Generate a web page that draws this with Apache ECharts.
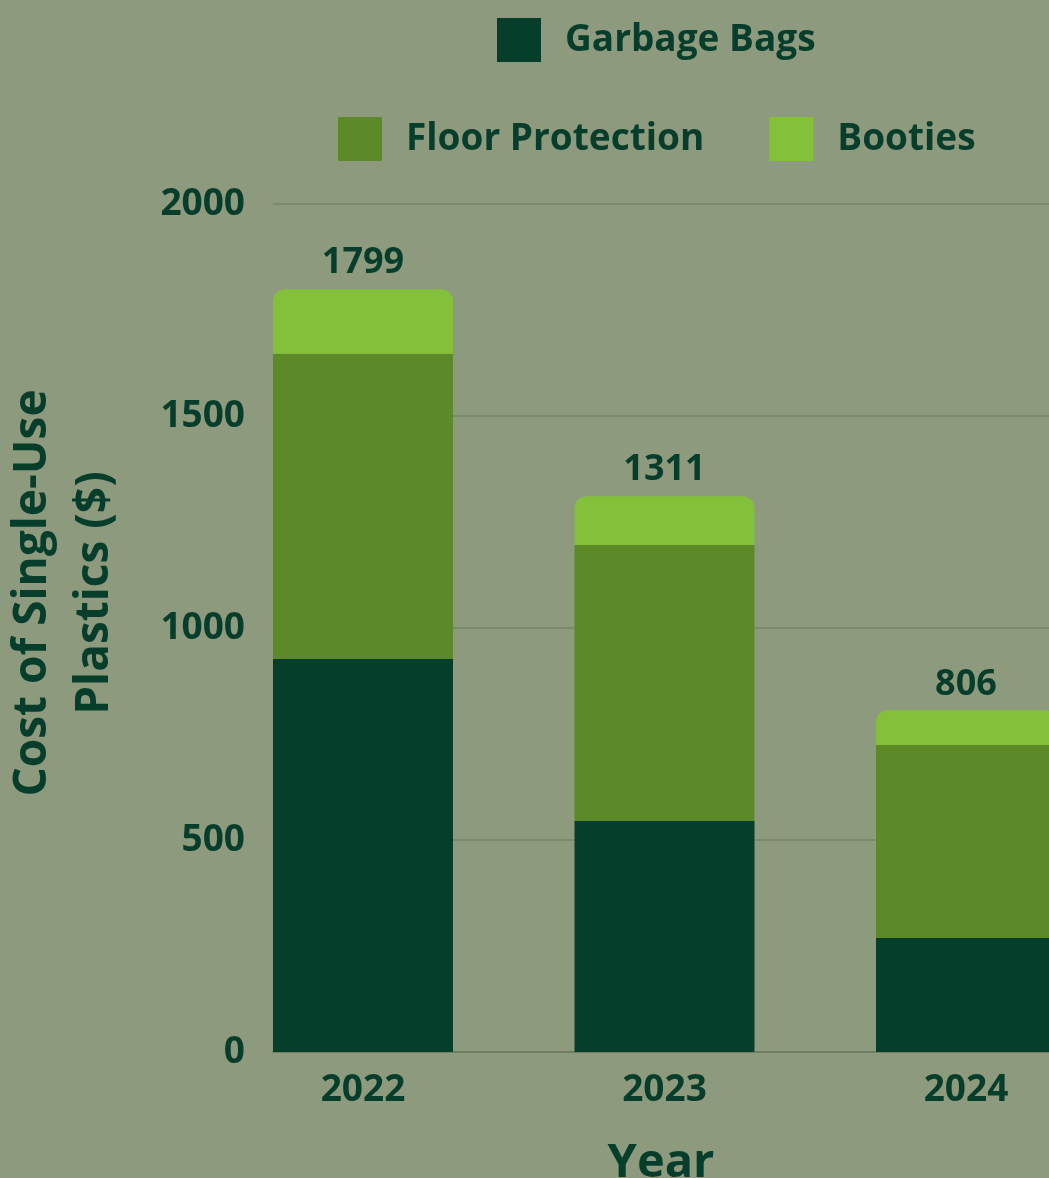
<!DOCTYPE html>
<html>
<head>
<meta charset="utf-8">
<script src="https://cdn.jsdelivr.net/npm/echarts@6/dist/echarts.min.js"></script>
<style>
  html, body { margin: 0; padding: 0; background: #8d9a7d; }
  #chart { width: 1049px; height: 1178px; }
</style>
</head>
<body>
<div id="chart"></div>
<script>
const years = ['2022', '2023', '2024'];
const garbageBags = [927, 545, 269];
const floorProtection = [720, 651, 455];
const booties = [152, 115, 82];
const totals = [1799, 1311, 806];
const yTicks = [0, 500, 1000, 1500, 2000];

const FONT = '"Open Sans", sans-serif';
const TEXT = '#073d2b';

const chart = echarts.init(document.getElementById('chart'), null, { renderer: 'canvas' });

// value first, category index second, so the stack runs on the value dimension
function rows(arr) { return arr.map((v, i) => [v, i]); }

const legendText = { color: TEXT, fontSize: 37, fontWeight: 'bold', fontFamily: FONT, padding: [0, 0, 0, 19] };

const option = {
  backgroundColor: '#8d9a7d',
  animation: false,
  textStyle: { fontFamily: FONT },
  legend: [
    {
      data: ['Garbage Bags'],
      left: 497, top: 18, padding: 0,
      icon: 'rect', itemWidth: 44, itemHeight: 44, itemGap: 65,
      textStyle: legendText
    },
    {
      data: ['Floor Protection', 'Booties'],
      left: 338, top: 117, padding: 0,
      icon: 'rect', itemWidth: 44, itemHeight: 44, itemGap: 65,
      textStyle: legendText
    }
  ],
  grid: { left: 273, right: 0, top: 204, bottom: 126, containLabel: false, outerBoundsMode: 'none' },
  xAxis: {
    type: 'value',
    min: -0.2985,
    max: 2.2753,
    name: 'Year',
    nameLocation: 'middle',
    nameGap: 88,
    nameTextStyle: { color: TEXT, fontSize: 47, fontWeight: 'bold', fontFamily: FONT },
    axisLine: { show: true, lineStyle: { color: '#6f7f62', width: 2 } },
    axisTick: { show: false },
    splitLine: { show: false },
    axisLabel: {
      customValues: [0, 1, 2],
      formatter: v => years[Math.round(v)],
      color: TEXT, fontSize: 37, fontWeight: 'bold', fontFamily: FONT, margin: 20
    }
  },
  yAxis: {
    type: 'value',
    min: 0, max: 2000, interval: 500,
    axisLine: { show: false },
    axisTick: { show: false },
    splitLine: { show: true, lineStyle: { color: '#7a8a6c', width: 2 } },
    axisLabel: {
      formatter: v => String(v),
      color: TEXT, fontSize: 37, fontWeight: 'bold', fontFamily: FONT, margin: 28
    }
  },
  graphic: [
    {
      type: 'text',
      x: 64, y: 593,
      rotation: Math.PI / 2,
      style: {
        text: 'Cost of Single-Use\nPlastics ($)',
        fill: TEXT,
        font: 'bold 46px "Open Sans", sans-serif',
        lineHeight: 62,
        align: 'center',
        verticalAlign: 'middle'
      }
    }
  ],
  series: [
    {
      name: 'Garbage Bags', type: 'bar', stack: 'total', barWidth: 180,
      encode: { x: 1, y: 0 },
      itemStyle: { color: '#063e2c' },
      data: rows(garbageBags)
    },
    {
      name: 'Floor Protection', type: 'bar', stack: 'total', barWidth: 180,
      encode: { x: 1, y: 0 },
      itemStyle: { color: '#5c8a28' },
      data: rows(floorProtection)
    },
    {
      name: 'Booties', type: 'bar', stack: 'total', barWidth: 180,
      encode: { x: 1, y: 0 },
      itemStyle: { color: '#84c13a', borderRadius: [12, 12, 0, 0] },
      label: {
        show: true, position: 'top', distance: 8,
        formatter: p => String(totals[p.dataIndex]),
        color: TEXT, fontSize: 36, fontWeight: 'bold', fontFamily: FONT
      },
      data: rows(booties)
    }
  ]
};

chart.setOption(option);
</script>
</body>
</html>
